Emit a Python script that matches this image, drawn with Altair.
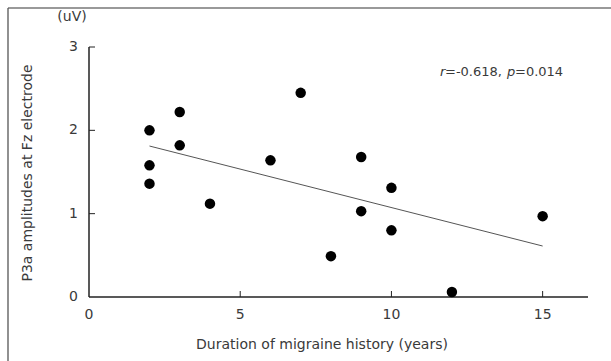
import altair as alt
import pandas as pd

duration = [2, 2, 2, 3, 3, 4, 6, 7, 8, 9, 9, 10, 10, 12, 15]
amplitude = [2.0, 1.58, 1.36, 2.22, 1.82, 1.12, 1.64, 2.45, 0.49, 1.68, 1.03, 1.31, 0.80, 0.06, 0.97]
x_ticks = [5, 10, 15]
y_ticks = [1, 2, 3]
x_labels = [0, 5, 10, 15]
y_labels = [0, 1, 2, 3]

FONT = "DejaVu Sans"
FS = 14
TXT = "#3a3a3a"

df = pd.DataFrame({"x": duration, "y": amplitude})
xs = alt.Scale(domain=[0, 16.5], nice=False, zero=False)
ys = alt.Scale(domain=[0, 3], nice=False, zero=False)


def X(f):
    return alt.X(f, scale=xs, axis=None)


def Y(f):
    return alt.Y(f, scale=ys, axis=None)


base = alt.Chart(df)

points = base.mark_circle(size=110, color="black", opacity=1).encode(x=X("x:Q"), y=Y("y:Q"))

reg = base.transform_regression("x", "y", extent=[2, 15]).mark_line(
    color="#555555", strokeWidth=1
).encode(x=X("x:Q"), y=Y("y:Q"))

xline = alt.Chart(pd.DataFrame({"a": [0], "b": [16.5]})).mark_rule(color="#222222", strokeWidth=1.5).encode(
    x=X("a:Q"), x2="b:Q", y=alt.value(250)
)
yline = alt.Chart(pd.DataFrame({"a": [0], "b": [3]})).mark_rule(color="#222222", strokeWidth=1.5).encode(
    y=Y("a:Q"), y2="b:Q", x=alt.value(0)
)
xt = alt.Chart(pd.DataFrame({"t": x_ticks})).mark_rule(color="#222222", strokeWidth=1).encode(
    x=X("t:Q"), y=alt.value(244), y2=alt.value(250)
)
yt = alt.Chart(pd.DataFrame({"t": y_ticks})).mark_rule(color="#222222", strokeWidth=1).encode(
    y=Y("t:Q"), x=alt.value(0), x2=alt.value(6)
)
xl = alt.Chart(pd.DataFrame({"t": x_labels})).mark_text(
    font=FONT, fontSize=FS, color=TXT, baseline="middle", align="center"
).encode(x=X("t:Q"), y=alt.value(268), text="t:Q")
yl = alt.Chart(pd.DataFrame({"t": y_labels})).mark_text(
    font=FONT, fontSize=FS, color=TXT, baseline="middle", align="right"
).encode(y=Y("t:Q"), x=alt.value(-11), text="t:Q")

xtitle = alt.Chart(pd.DataFrame({"s": ["Duration of migraine history (years)"]})).mark_text(
    font=FONT, fontSize=FS, color=TXT, align="center", baseline="middle"
).encode(x=alt.value(233), y=alt.value(298), text="s:N")
ytitle = alt.Chart(pd.DataFrame({"s": ["P3a amplitudes at Fz electrode"]})).mark_text(
    font=FONT, fontSize=FS, color=TXT, align="center", baseline="middle", angle=270
).encode(x=alt.value(-61), y=alt.value(126), text="s:N")
unit = alt.Chart(pd.DataFrame({"s": ["(uV)"]})).mark_text(
    font=FONT, fontSize=FS, color=TXT, align="center", baseline="middle"
).encode(x=alt.value(-17), y=alt.value(-30), text="s:N")

ann_s = ["r", "=-0.618,", "p", "=0.014"]
ann_px = [351, 356, 418, 426]
ann_st = ["italic", "normal", "italic", "normal"]
ann = []
for s, px, st in zip(ann_s, ann_px, ann_st):
    ann.append(alt.Chart(pd.DataFrame({"s": [s]})).mark_text(
        font=FONT, fontSize=13, color=TXT, align="left", baseline="middle", fontStyle=st
    ).encode(x=alt.value(px), y=alt.value(25), text="s:N"))

frame_top = alt.Chart(pd.DataFrame({"s": [0]})).mark_rule(color="#777777", strokeWidth=1.6).encode(
    x=alt.value(-81), x2=alt.value(522), y=alt.value(-39)
)
frame_left = alt.Chart(pd.DataFrame({"s": [0]})).mark_rule(color="#555555", strokeWidth=1.3).encode(
    x=alt.value(-81), y=alt.value(-39), y2=alt.value(314)
)

chart = alt.layer(
    frame_top, frame_left, xline, yline, xt, yt, xl, yl, xtitle, ytitle, unit, reg, points, *ann
).properties(
    width=499, height=250,
    background="white",
    autosize=alt.AutoSizeParams(type="none"),
    padding={"left": 89, "top": 47, "right": 23, "bottom": 64},
).configure_view(strokeWidth=0, stroke=None)

chart.save("out.html", embed_options={"renderer": "svg", "actions": False})
